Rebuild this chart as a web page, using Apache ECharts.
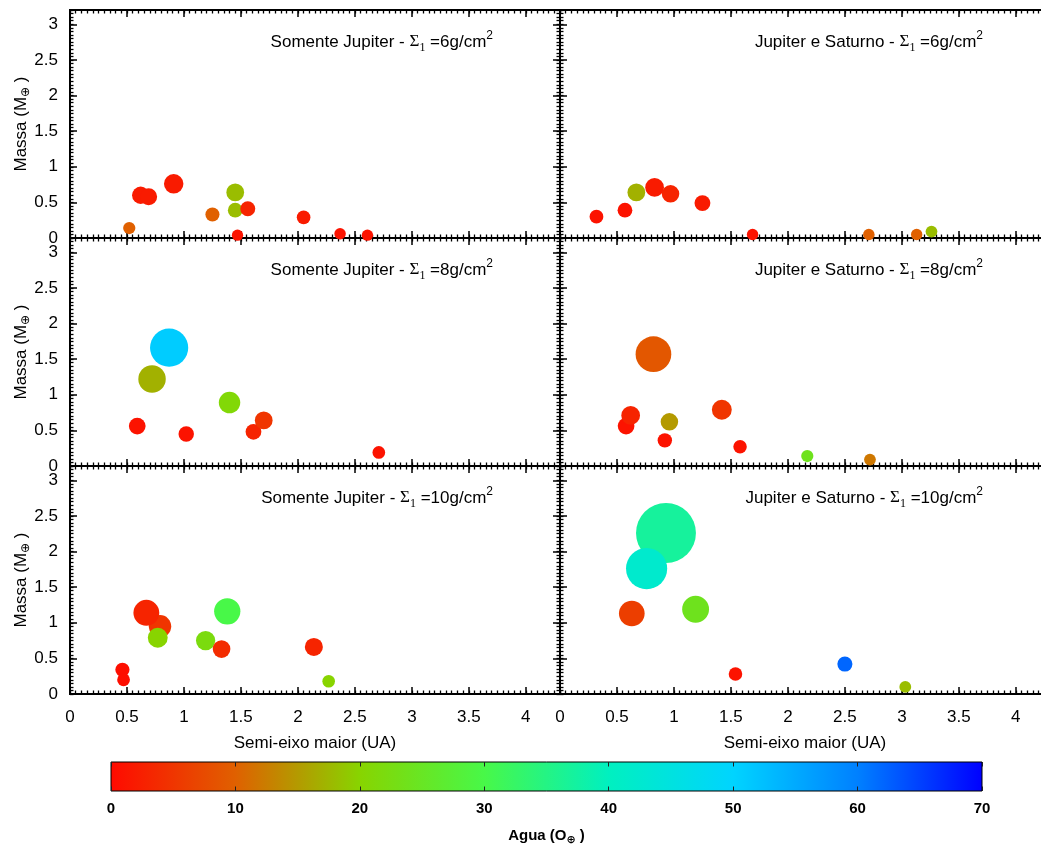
<!DOCTYPE html>
<html>
<head>
<meta charset="utf-8">
<title>Massa e agua dos planetas formados</title>
<script src="https://cdn.jsdelivr.net/npm/echarts@6/dist/echarts.min.js"></script>
<style>
  html, body { margin: 0; padding: 0; background: #fff; }
  #chart { width: 1041px; height: 848px; }
</style>
</head>
<body>
<div id="chart"></div>
<script>
// ---- data: semi-major axis (UA), mass (Earth masses), water (Earth oceans) ----
// Somente Jupiter, sigma1 = 6 g/cm2
const sj6A = [0.52, 0.62, 0.69, 0.91, 1.25, 1.45, 1.45, 1.47, 1.56, 2.05, 2.37, 2.61];
const sj6M = [0.14, 0.60, 0.58, 0.76, 0.33, 0.64, 0.39, 0.04, 0.41, 0.29, 0.06, 0.04];
const sj6W = [10, 2, 2, 2, 10, 18, 18, 1, 3, 2, 1, 1];
// Jupiter e Saturno, sigma1 = 6 g/cm2
const js6A = [0.32, 0.57, 0.67, 0.83, 0.97, 1.25, 1.69, 2.71, 3.13, 3.26];
const js6M = [0.30, 0.39, 0.64, 0.71, 0.62, 0.49, 0.05, 0.05, 0.05, 0.09];
const js6W = [1, 1, 17, 2, 3, 2, 1, 10, 10, 18];
// Somente Jupiter, sigma1 = 8 g/cm2
const sj8A = [0.59, 0.72, 0.87, 1.02, 1.40, 1.61, 1.70, 2.71];
const sj8M = [0.56, 1.22, 1.66, 0.45, 0.89, 0.48, 0.64, 0.19];
const sj8W = [1, 17, 51, 1, 21, 3, 5, 1];
// Jupiter e Saturno, sigma1 = 8 g/cm2
const js8A = [0.58, 0.62, 0.82, 0.92, 0.96, 1.42, 1.58, 2.17, 2.72];
const js8M = [0.56, 0.71, 1.57, 0.36, 0.62, 0.79, 0.27, 0.14, 0.09];
const js8W = [1, 3, 9, 1, 15, 5, 1, 24, 12];
// Somente Jupiter, sigma1 = 10 g/cm2
const sj10A = [0.79, 0.67, 0.77, 0.46, 0.47, 1.19, 1.33, 1.38, 2.14, 2.27];
const sj10M = [0.95, 1.14, 0.79, 0.34, 0.20, 0.75, 0.63, 1.16, 0.66, 0.18];
const sj10W = [5, 3, 20, 0.5, 0.5, 22, 4, 30, 3, 20];
// Jupiter e Saturno, sigma1 = 10 g/cm2
const js10A = [0.93, 0.76, 0.63, 1.19, 1.54, 2.50, 3.03];
const js10M = [2.26, 1.76, 1.13, 1.19, 0.28, 0.42, 0.10];
const js10W = [37, 42, 6, 24, 1, 62, 18];

// panel captions
const panelModes = ['Somente Jupiter', 'Jupiter e Saturno'];
const panelSigmas = ['6', '8', '10'];

// axis ranges and tick labels
const xMin = 0, xMax = 4.3, xStep = 0.5, xMinorStep = 0.05;
const yMin = 0, yMax = 3.2, yStep = 0.5, yMinorStep = 0.05;
const waterMin = 0, waterMax = 70, waterStep = 10;
// colour scale for the water content, evenly spaced from 0 to 70
const waterColors = ['#ff0a00', '#e06000', '#88d400', '#48f848', '#00f0c0', '#00d4ff', '#0080ff', '#0000ff'];

const xTitle = 'Semi-eixo maior (UA)';
const yTitle = '{t|Massa (M}{sub|\u2295}{t| )}';
const cbTitle = '{t|Agua (O}{sub|\u2295}{t| )}';

const panelData = [
  [sj6A, sj6M, sj6W], [js6A, js6M, js6W],
  [sj8A, sj8M, sj8W], [js8A, js8M, js8W],
  [sj10A, sj10M, sj10W], [js10A, js10M, js10W]
];

// ---- layout ----
const SANS = "'Liberation Sans', Arial, Helvetica, 'DejaVu Sans', sans-serif";
const SERIF = "'Liberation Serif', 'Times New Roman', 'DejaVu Serif', serif";
const NARROW = "'Liberation Sans Narrow', 'Arial Narrow', 'Liberation Sans', sans-serif";
const gridTops = [10, 238, 466];
const gridLefts = [70, 560];
const gridW = 490, gridH = 228;

// bubble diameter grows with the planet mass
function bubbleSize(mass) { return 11 * Math.exp(0.75 * mass); }

function valueAxis(extra) {
  return Object.assign({
    type: 'value',
    splitLine: { show: false },
    axisLine: { show: true, onZero: false, lineStyle: { color: '#000', width: 2 } },
    axisTick: { show: true, inside: true, length: 7, lineStyle: { color: '#000', width: 1.5 } },
    axisLabel: { show: false },
    axisPointer: { show: false },
    nameMoveOverlap: false
  }, extra);
}
const minorTick = { show: true, inside: true, length: 3.5, lineStyle: { color: '#000', width: 1.3 } };

const option = {
  animation: false,
  backgroundColor: '#fff',
  textStyle: { fontFamily: SANS },
  grid: [], xAxis: [], yAxis: [], series: [], title: []
};

panelData.forEach(function (d, k) {
  const row = Math.floor(k / 2), col = k % 2;
  option.grid.push({
    left: gridLefts[col], top: gridTops[row], width: gridW, height: gridH,
    containLabel: false, outerBoundsMode: 'none'
  });
  const xBottom = option.xAxis.length;
  ['bottom', 'top'].forEach(function (pos) {
    const labelled = pos === 'bottom' && row === 2;
    option.xAxis.push(valueAxis({
      gridIndex: k, position: pos, min: xMin, max: xMax, interval: xStep,
      axisLabel: labelled ? { show: true, margin: 15, fontSize: 17, color: '#000', fontFamily: SANS, showMaxLabel: false } : { show: false },
      name: labelled ? xTitle : '', nameLocation: 'middle', nameGap: 41,
      nameTextStyle: { fontSize: 17, color: '#000', fontFamily: SANS }
    }));
    option.xAxis.push(valueAxis({
      gridIndex: k, position: pos, min: xMin, max: xMax, interval: xMinorStep, axisTick: minorTick
    }));
  });
  const yLeft = option.yAxis.length;
  ['left', 'right'].forEach(function (pos) {
    const labelled = pos === 'left' && col === 0;
    option.yAxis.push(valueAxis({
      gridIndex: k, position: pos, min: yMin, max: yMax, interval: yStep,
      axisLabel: labelled ? { show: true, margin: 12, fontSize: 17, color: '#000', fontFamily: SANS, showMaxLabel: false } : { show: false },
      name: labelled ? yTitle : '', nameLocation: 'middle', nameRotate: 90, nameGap: 38,
      nameTextStyle: {
        color: '#000',
        rich: {
          t: { fontSize: 17, fontFamily: SANS, fontWeight: 'normal', color: '#000', lineHeight: 22 },
          sub: { fontSize: 12, fontFamily: "'DejaVu Sans', sans-serif", fontWeight: 'normal', color: '#000', lineHeight: 10, verticalAlign: 'bottom' }
        }
      }
    }));
    option.yAxis.push(valueAxis({
      gridIndex: k, position: pos, min: yMin, max: yMax, interval: yMinorStep, axisTick: minorTick
    }));
  });

  option.series.push({
    type: 'scatter',
    xAxisIndex: xBottom, yAxisIndex: yLeft,
    data: d[0].map(function (a, i) { return [a, d[1][i], d[2][i]]; }),
    symbol: 'circle',
    symbolSize: function (v) { return bubbleSize(v[1]); },
    itemStyle: { opacity: 1 },
    emphasis: { disabled: true },
    z: 3
  });

  option.title.push({
    text: '{t|' + panelModes[col] + ' - }{s|\u03A3}{sub|1}{t| =' + panelSigmas[row] + 'g/cm}{sup|2}',
    right: col === 0 ? 548 : 58,
    top: gridTops[row] + 20,
    padding: 0,
    textStyle: {
      fontWeight: 'normal',
      rich: {
        t: { fontSize: 17, fontFamily: SANS, fontWeight: 'normal', color: '#000', lineHeight: 24 },
        s: { fontSize: 17, fontFamily: SERIF, fontWeight: 'normal', color: '#000', lineHeight: 24 },
        sub: { fontSize: 12, fontFamily: SERIF, fontWeight: 'normal', color: '#000', lineHeight: 11, verticalAlign: 'bottom' },
        sup: { fontSize: 12, fontFamily: SANS, fontWeight: 'normal', color: '#000', lineHeight: 11, verticalAlign: 'top' }
      }
    }
  });
});

option.visualMap = {
  type: 'continuous', show: false,
  min: waterMin, max: waterMax, dimension: 2,
  seriesIndex: [0, 1, 2, 3, 4, 5],
  inRange: { color: waterColors }
};

// ---- colour bar for the water content ----
const cbGrid = option.grid.length;
option.grid.push({ left: 111, top: 762, width: 871, height: 29, containLabel: false, outerBoundsMode: 'none' });
const cbTick = { show: true, inside: true, length: 4.5, lineStyle: { color: '#222', width: 1 } };
const cbX = option.xAxis.length;
option.xAxis.push(valueAxis({
  gridIndex: cbGrid, position: 'bottom', min: waterMin, max: waterMax, interval: waterStep, z: 5,
  axisLine: { show: false, onZero: false },
  axisTick: cbTick,
  axisLabel: { show: true, margin: 10, fontSize: 15, fontWeight: 'bold', color: '#000', fontFamily: NARROW },
  name: cbTitle, nameLocation: 'middle', nameGap: 35,
  nameTextStyle: {
    rich: {
      t: { fontSize: 15, fontWeight: 'bold', fontFamily: NARROW, color: '#000', lineHeight: 20 },
      sub: { fontSize: 11, fontFamily: "'DejaVu Sans', sans-serif", fontWeight: 'bold', color: '#000', lineHeight: 9, verticalAlign: 'bottom' }
    }
  }
}));
option.xAxis.push(valueAxis({
  gridIndex: cbGrid, position: 'top', min: waterMin, max: waterMax, interval: waterStep, z: 5,
  axisLine: { show: false, onZero: false },
  axisTick: cbTick
}));
const cbY = option.yAxis.length;
option.yAxis.push({ type: 'value', gridIndex: cbGrid, min: 0, max: 1, show: false });

option.series.push({
  type: 'custom',
  xAxisIndex: cbX, yAxisIndex: cbY,
  data: [[waterMin, 0]],
  silent: true,
  z: 1,
  renderItem: function (params, api) {
    const p0 = api.coord([waterMin, 1]);
    const p1 = api.coord([waterMax, 0]);
    const stops = waterColors.map(function (c, i) {
      return { offset: i / (waterColors.length - 1), color: c };
    });
    return {
      type: 'rect',
      shape: { x: p0[0], y: p0[1], width: p1[0] - p0[0], height: p1[1] - p0[1] },
      style: { fill: new echarts.graphic.LinearGradient(0, 0, 1, 0, stops), stroke: '#000', lineWidth: 1 }
    };
  }
});

const chart = echarts.init(document.getElementById('chart'), null, { renderer: 'canvas' });
chart.setOption(option);
</script>
</body>
</html>
